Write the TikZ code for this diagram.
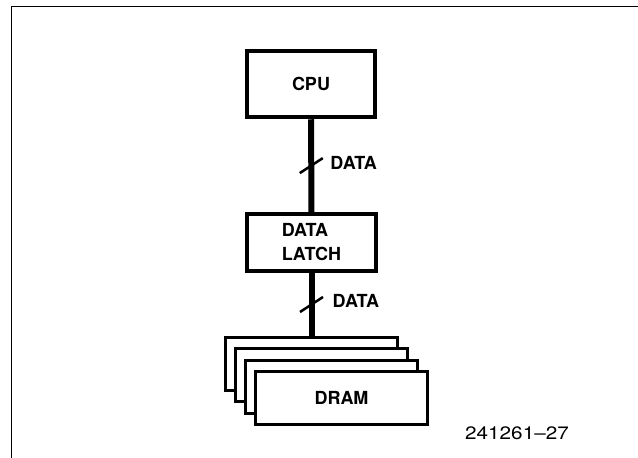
\documentclass[tikz,border=0pt]{standalone}
\usepackage{fontspec}
\setmainfont{TeX Gyre Heros}
\usepackage{graphicx}
\usetikzlibrary{calc}

\tikzset{
	unit/.style={draw, fill=white, line width=4pt, minimum width=129pt, minimum height=57pt, inner sep=0pt, align=left, font=\fontsize{18}{24}\selectfont\bfseries},
	chip/.style={draw, fill=white, line width=3pt, minimum width=172pt, minimum height=53pt, inner sep=0pt, font=\fontsize{18}{24}\selectfont\bfseries},
	bus/.style={line width=6pt},
	tick/.style={line width=2.5pt},
	buslabel/.style={anchor=west, inner sep=0pt, font=\fontsize{18}{24}\selectfont\bfseries}
}

\begin{document}
\begin{tikzpicture}[x=1pt, y=-1pt]
		\useasboundingbox (0,0) rectangle (638,458);
		\draw[line width=1.5pt] (11.5,458) -- (11.5,6.5) -- (638,6.5);
		\node (cpu) [unit, line width=4.5pt, minimum width=128pt, minimum height=66pt] at (311,84) {CPU};
		\node (latch) [unit] at (311.5,242.5) {DATA\\LATCH};
		\node (dramA) [chip] at (311.5,364) {};
		\node (dramB) [chip] at ($(dramA)+(10,11.3)$) {};
		\node (dramC) [chip] at ($(dramB)+(10,11.3)$) {};
		\node (dramD) [chip] at ($(dramC)+(10,11.3)$) {DRAM};
		\node (id) [font=\fontsize{18}{24}\selectfont] at (517,433.5) {\scalebox{1.15}[1]{241261--27}};
		\draw[bus](cpu) to coordinate[pos=.5] (busA) (latch);
		\draw[bus](latch) to coordinate[pos=.5] (busB) (dramA);
		\draw[tick]($(busA)+(-11.5,7.5)$) -- ($(busA)+(11.5,-7.5)$);
		\draw[tick]($(busB)+(-11.5,7.5)$) -- ($(busB)+(11.5,-7.5)$);
		\node (dataA) [buslabel] at ($(busA)+(19,-2.5)$) {DATA};
		\node (dataB) [buslabel] at ($(busB)+(21,-3.5)$) {DATA};
		\end{tikzpicture}
\end{document}
